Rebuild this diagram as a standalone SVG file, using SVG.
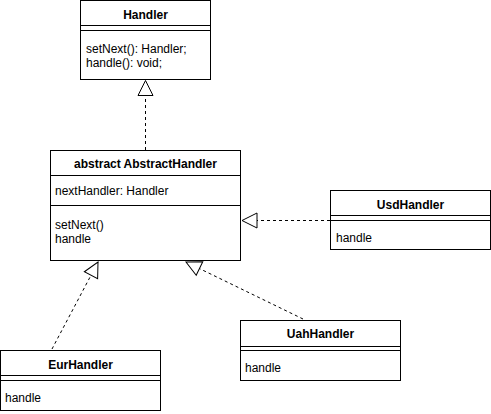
<svg xmlns="http://www.w3.org/2000/svg" width="491" height="414" viewBox="0 0 491 414">
<style>
.box{fill:#fff;stroke:#000;stroke-width:1}
.ln{stroke:#000;stroke-width:1;fill:none}
.t{font-family:"Liberation Sans",Arial,sans-serif;font-size:12px;fill:#000}
.b{font-weight:bold;text-anchor:middle}
.c{stroke:#000;stroke-width:1;fill:none;stroke-dasharray:3 3}
</style>
<defs>
<marker id="tri" markerUnits="userSpaceOnUse" markerWidth="18" markerHeight="18" refX="15" refY="7.5" orient="auto" viewBox="-1 -1 18 17">
<path d="M0,0 L15,7.5 L0,15 Z" fill="#fff" stroke="#000" stroke-width="1" stroke-dasharray="none"/>
</marker>
</defs>
<rect width="491" height="414" fill="#fff"/>
<g id="connectors">
<line class="c" x1="145.5" y1="150" x2="145.5" y2="80.5" marker-end="url(#tri)"/>
<line class="c" x1="330" y1="220.5" x2="242" y2="220.5" marker-end="url(#tri)"/>
<line class="c" x1="52" y1="349" x2="98" y2="262" marker-end="url(#tri)"/>
<line class="c" x1="303" y1="319" x2="186" y2="262" marker-end="url(#tri)"/>
</g>
<g id="Handler">
<rect class="box" x="80.5" y="0.5" width="130" height="79"/>
<line class="ln" x1="80.5" y1="25.5" x2="210.5" y2="25.5"/>
<line class="ln" x1="80.5" y1="30.5" x2="210.5" y2="30.5"/>
<text class="t b" x="145.5" y="19">Handler</text>
<text class="t" x="86" y="53">setNext(): Handler;</text>
<text class="t" x="86" y="67">handle(): void;</text>
</g>
<g id="AbstractHandler">
<rect class="box" x="50.5" y="150.5" width="190" height="110"/>
<line class="ln" x1="50.5" y1="175.5" x2="240.5" y2="175.5"/>
<line class="ln" x1="50.5" y1="205.5" x2="240.5" y2="205.5"/>
<text class="t b" x="145.5" y="168">abstract AbstractHandler</text>
<text class="t" x="55" y="195">nextHandler: Handler</text>
<text class="t" x="55" y="229">setNext()</text>
<text class="t" x="55" y="243">handle</text>
</g>
<g id="UsdHandler">
<rect class="box" x="330.5" y="190.5" width="160" height="59"/>
<line class="ln" x1="330.5" y1="215.5" x2="490.5" y2="215.5"/>
<line class="ln" x1="330.5" y1="220.5" x2="490.5" y2="220.5"/>
<text class="t b" x="410.5" y="209">UsdHandler</text>
<text class="t" x="336" y="242">handle</text>
</g>
<g id="UahHandler">
<rect class="box" x="240.5" y="320.5" width="160" height="60"/>
<line class="ln" x1="240.5" y1="346.5" x2="400.5" y2="346.5"/>
<line class="ln" x1="240.5" y1="350.5" x2="400.5" y2="350.5"/>
<text class="t b" x="320.5" y="338">UahHandler</text>
<text class="t" x="245" y="372">handle</text>
</g>
<g id="EurHandler">
<rect class="box" x="0.5" y="350.5" width="160" height="60"/>
<line class="ln" x1="0.5" y1="375.5" x2="160.5" y2="375.5"/>
<line class="ln" x1="0.5" y1="380.5" x2="160.5" y2="380.5"/>
<text class="t b" x="80.5" y="369">EurHandler</text>
<text class="t" x="5" y="402">handle</text>
</g>
</svg>
